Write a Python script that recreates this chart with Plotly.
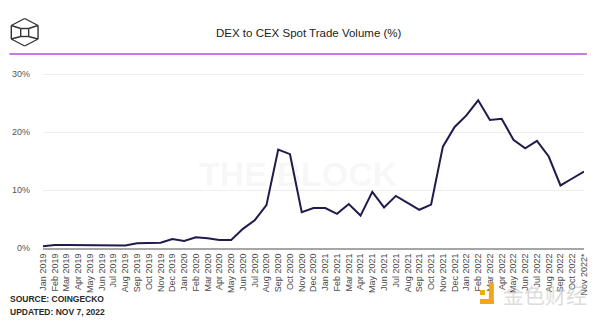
import plotly.graph_objects as go

# Monthly DEX-to-CEX spot trade volume ratio, Jan 2019 - Nov 2022
months = [
    "Jan 2019", "Feb 2019", "Mar 2019", "Apr 2019", "May 2019", "Jun 2019",
    "Jul 2019", "Aug 2019", "Sep 2019", "Oct 2019", "Nov 2019", "Dec 2019",
    "Jan 2020", "Feb 2020", "Mar 2020", "Apr 2020", "May 2020", "Jun 2020",
    "Jul 2020", "Aug 2020", "Sep 2020", "Oct 2020", "Nov 2020", "Dec 2020",
    "Jan 2021", "Feb 2021", "Mar 2021", "Apr 2021", "May 2021", "Jun 2021",
    "Jul 2021", "Aug 2021", "Sep 2021", "Oct 2021", "Nov 2021", "Dec 2021",
    "Jan 2022", "Feb 2022", "Mar 2022", "Apr 2022", "May 2022", "Jun 2022",
    "Jul 2022", "Aug 2022", "Sep 2022", "Oct 2022", "Nov 2022*",
]
dex_to_cex_pct = [
    0.3, 0.5, 0.5, 0.5, 0.4, 0.45, 0.5, 0.45, 0.8, 0.9, 0.9, 1.55,
    1.2, 1.85, 1.7, 1.4, 1.4, 3.3, 4.8, 7.4, 17.0, 16.2, 6.2, 6.9,
    6.9, 5.9, 7.6, 5.6, 9.7, 7.0, 9.0, 7.8, 6.6, 7.5, 17.5, 20.9,
    22.9, 25.5, 22.1, 22.3, 18.7, 17.2, 18.5, 15.8, 10.8, 12.0, 13.2,
]
y_ticks = [0, 10, 20, 30]
y_tick_labels = ["0%", "10%", "20%", "30%"]

W, H = 600, 325
ML, MR, MT, MB = 43, 11, 65, 77
PW, PH = W - ML - MR, H - MT - MB


def px(x):
    return (x - ML) / PW


def py(y):
    return (H - MB - y) / PH


FONT = "Liberation Sans, Arial, sans-serif"
INK = "#333333"

fig = go.Figure(
    go.Scatter(
        x=months,
        y=dex_to_cex_pct,
        mode="lines",
        line=dict(color="#1f1b4d", width=2),
        hoverinfo="x+y",
    )
)


def seg(x0, y0, x1, y1, color=INK, width=1.4):
    return dict(type="line", xref="paper", yref="paper",
                x0=px(x0), y0=py(y0), x1=px(x1), y1=py(y1),
                line=dict(color=color, width=width))


# Cube logo in the header: outer hexagon, inner square, connecting edges
hex_pts = [(24.5, 18.5), (38, 25.5), (38, 39), (24.5, 46), (11, 39), (11, 25.5)]
sq_pts = [(20.5, 28.5), (28.5, 28.5), (28.5, 36.5), (20.5, 36.5)]
shapes = []
for i in range(6):
    (a, b), (c, d) = hex_pts[i], hex_pts[(i + 1) % 6]
    shapes.append(seg(a, b, c, d))
for i in range(4):
    (a, b), (c, d) = sq_pts[i], sq_pts[(i + 1) % 4]
    shapes.append(seg(a, b, c, d))
shapes += [
    seg(11, 25.5, 20.5, 28.5), seg(38, 25.5, 28.5, 28.5),
    seg(38, 39, 28.5, 36.5), seg(11, 39, 20.5, 36.5),
]
# Header rule
shapes.append(seg(9, 54, 592, 54, color="#c77be3", width=2))

# Orange mark beside the site tag
for x0, x1, y0, y1 in [(493, 498, 304, 283), (484, 498, 304, 299), (484, 489, 295, 290)]:
    shapes.append(dict(type="rect", xref="paper", yref="paper",
                       x0=px(x0), x1=px(x1), y0=py(y0), y1=py(y1),
                       fillcolor="#f0a818", line=dict(width=0)))


def note(text, x, y, size, color, xanchor="center", family=FONT):
    return dict(text=text, xref="paper", yref="paper", x=px(x), y=py(y),
                xanchor=xanchor, yanchor="middle", showarrow=False,
                font=dict(family=family, size=size, color=color))


annotations = [
    note("DEX to CEX Spot Trade Volume (%)", 311, 33, 11.5, "#222222"),
    note("<b>THE BLOCK</b>", 301, 174, 34, "rgba(0,0,0,0.05)"),
    note("<b>SOURCE: COINGECKO</b>", 8, 299, 8.5, "#2a2a2a", xanchor="left"),
    note("<b>UPDATED: NOV 7, 2022</b>", 8, 312, 8.5, "#2a2a2a", xanchor="left"),
    note("金色财经", 550, 294, 21, "rgba(190,190,190,0.55)",
         family="Noto Sans CJK SC"),
]

fig.update_layout(
    width=W, height=H,
    margin=dict(l=ML, r=MR, t=MT, b=MB),
    paper_bgcolor="white", plot_bgcolor="white",
    showlegend=False,
    shapes=shapes,
    annotations=annotations,
    xaxis=dict(
        type="category", range=[0, len(months) - 1],
        tickangle=-90, tickfont=dict(family=FONT, size=9, color="#4a4a4a"),
        showgrid=False, showline=True, linecolor="#a6a6a6", linewidth=2,
        ticks="", fixedrange=True,
    ),
    yaxis=dict(
        range=[0, 31.6], tickmode="array", tickvals=y_ticks, ticktext=y_tick_labels,
        tickfont=dict(family=FONT, size=9, color="#555555"),
        showgrid=True, gridcolor="#ededed", gridwidth=1,
        zeroline=False, showline=False, ticks="", ticklabelstandoff=12,
        fixedrange=True,
    ),
)

fig.write_html("out.html")
